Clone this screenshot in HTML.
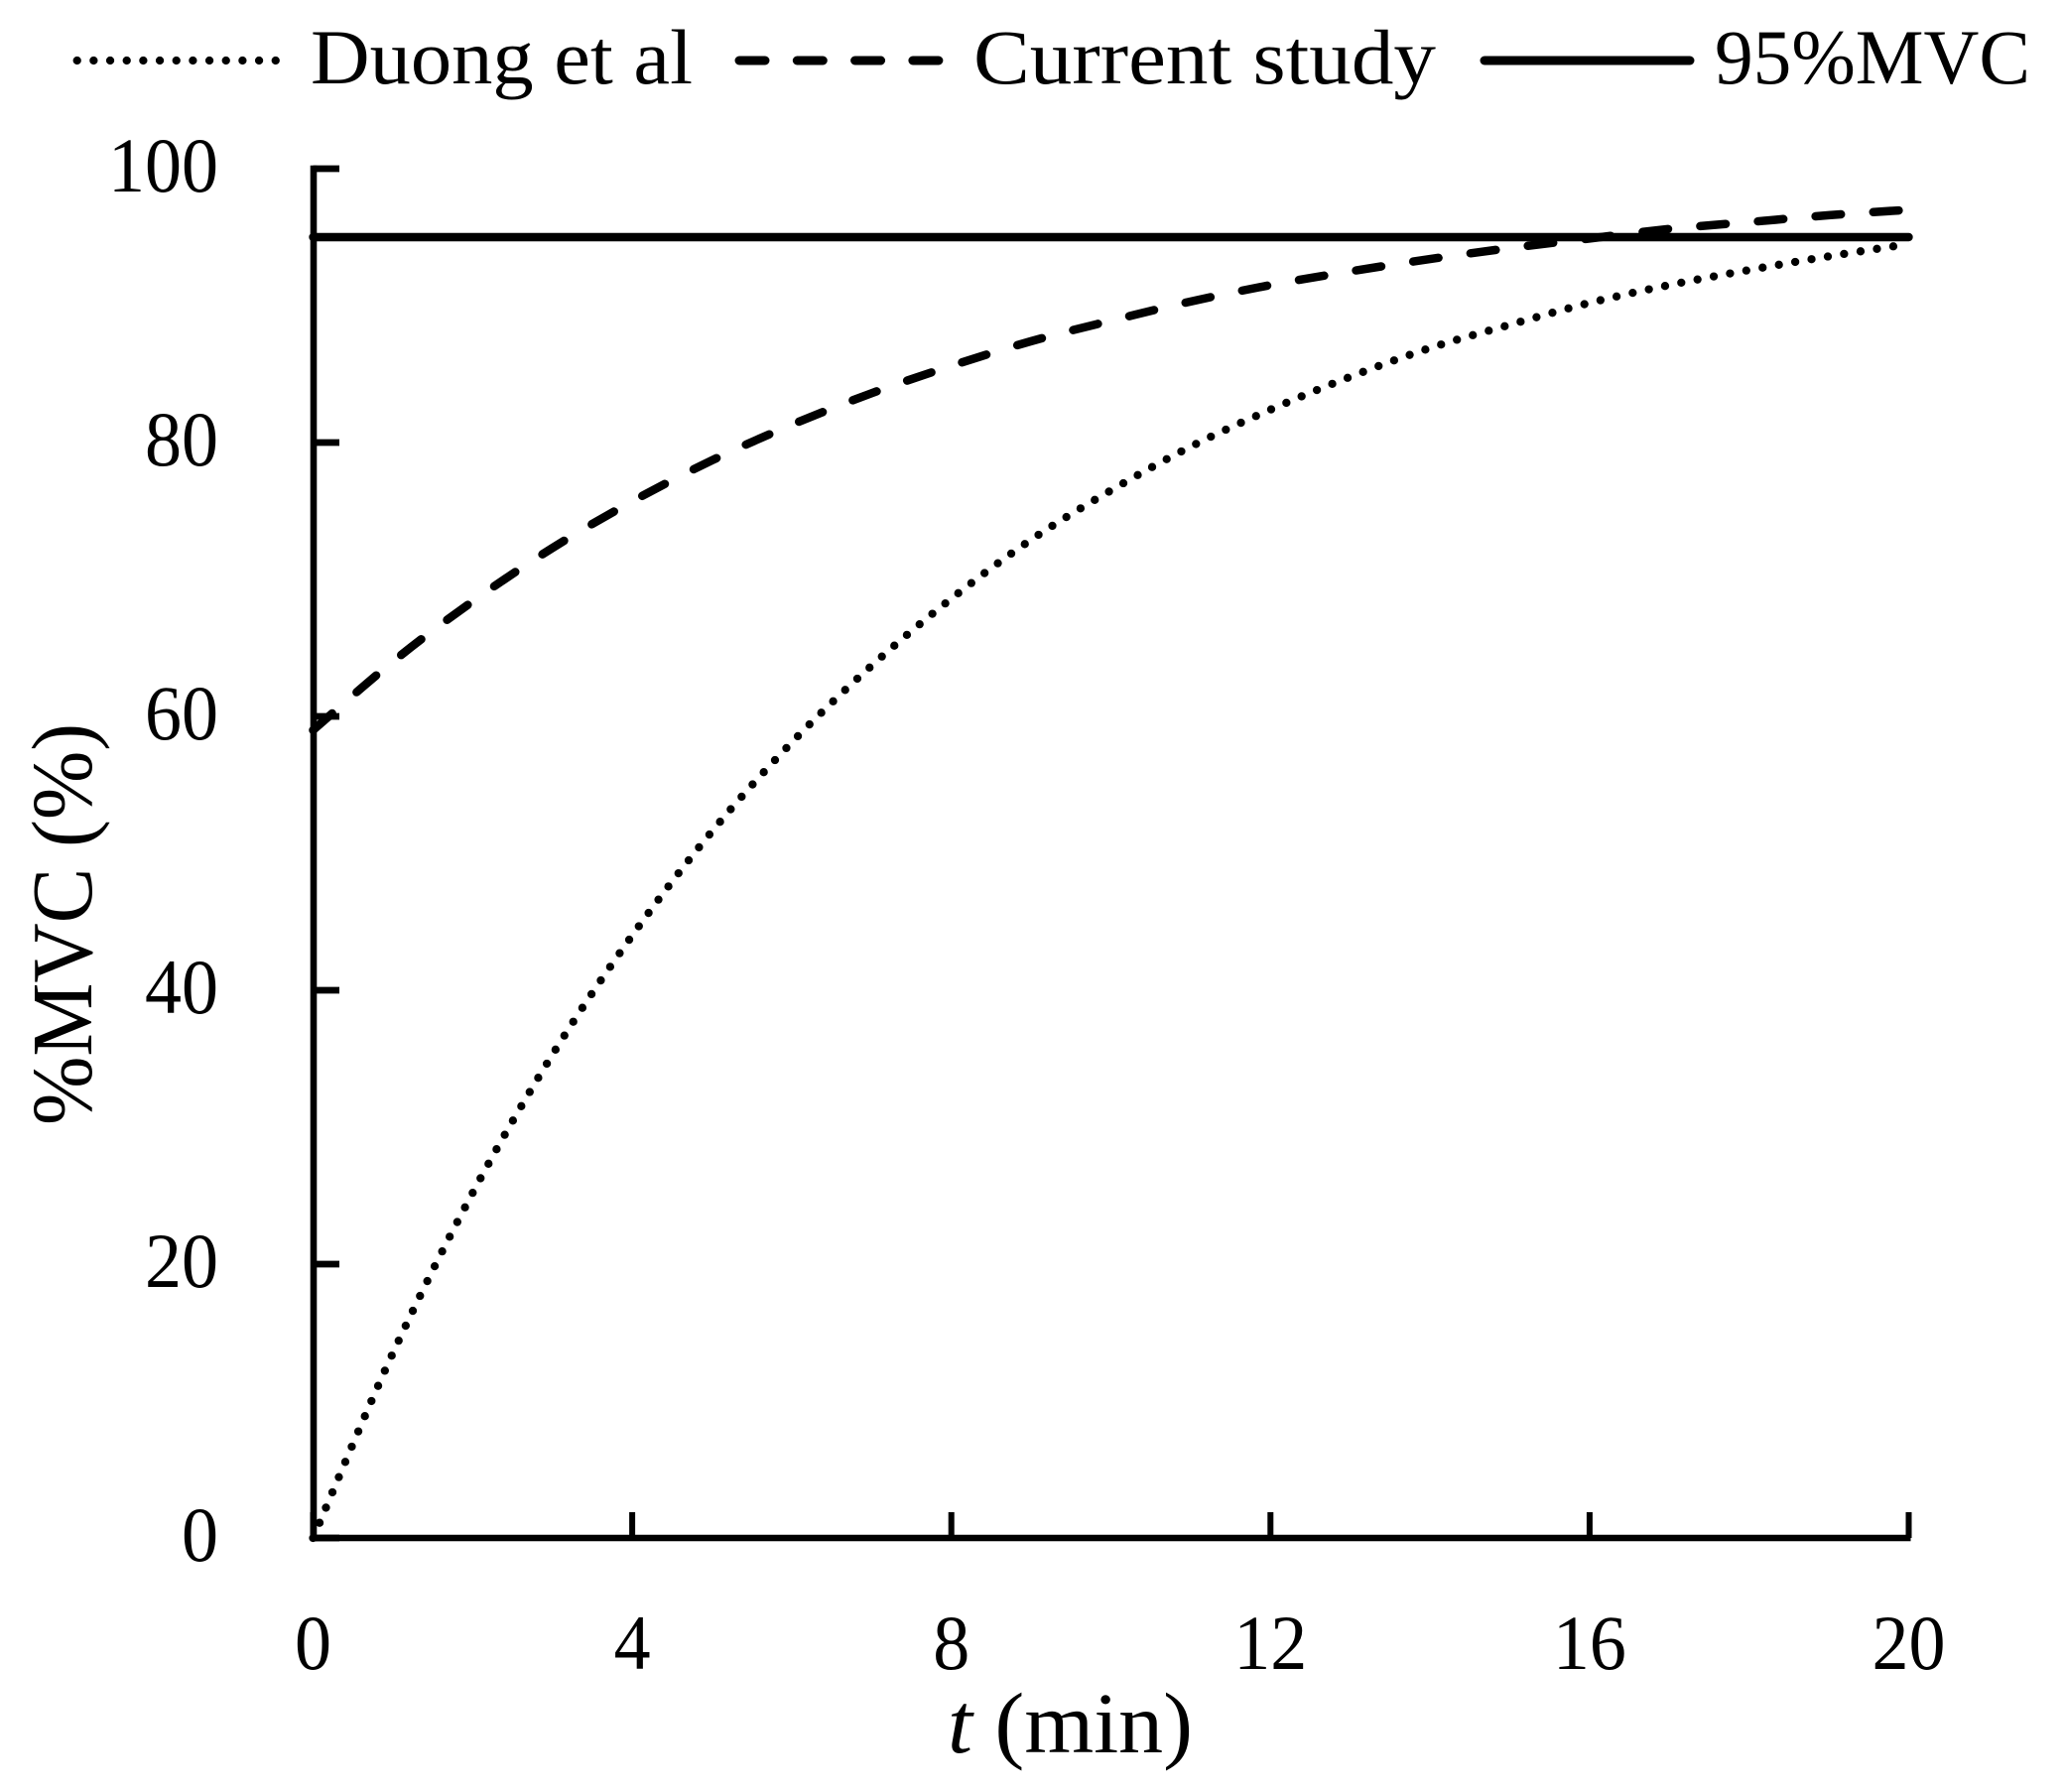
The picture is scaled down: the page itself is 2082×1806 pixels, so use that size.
<!DOCTYPE html>
<html lang="en">
<head>
<meta charset="utf-8">
<title>%MVC over time</title>
<style>
html,body{margin:0;padding:0;background:#fff;}
svg{display:block;}
text{font-family:"Liberation Serif",serif;fill:#000;}
</style>
</head>
<body>
<svg id="chart" xmlns="http://www.w3.org/2000/svg" width="2082" height="1806" viewBox="0 0 2082 1806">
  <rect x="0" y="0" width="2082" height="1806" fill="#fff"/>
  <g id="plot"></g>
  <g>
    <g>
      <line x1="77.7" y1="61" x2="278.5" y2="61" stroke="#000" stroke-width="8.3" stroke-linecap="round" stroke-dasharray="0 16.67"/>
      <text x="313" y="84" font-size="78" textLength="385" lengthAdjust="spacingAndGlyphs">Duong et al</text>
    </g>
    <g>
      <line x1="745" y1="61" x2="946" y2="61" stroke="#000" stroke-width="9" stroke-linecap="round" stroke-dasharray="26 32.3"/>
      <text x="981" y="84" font-size="78" textLength="466" lengthAdjust="spacingAndGlyphs">Current study</text>
    </g>
    <g>
      <line x1="1496" y1="61" x2="1703" y2="61" stroke="#000" stroke-width="9" stroke-linecap="round"/>
      <text x="1728" y="84" font-size="78" textLength="318" lengthAdjust="spacingAndGlyphs">95%MVC</text>
    </g>
  </g>
  <text x="955" y="1766" font-size="87" textLength="247" lengthAdjust="spacingAndGlyphs"><tspan font-style="italic">t</tspan> (min)</text>
  <text transform="translate(92 1134) rotate(-90)" x="0" y="0" font-size="87" textLength="405" lengthAdjust="spacingAndGlyphs">%MVC (%)</text>
</svg>
<script>
const times = [0,1,2,3,4,5,6,7,8,9,10,11,12,13,14,15,16,17,18,19,20];
const duongValues = [0,13.5,25.2,35.3,44.0,51.6,58.1,63.7,68.6,72.9,76.5,79.7,82.4,84.8,86.9,88.6,90.2,91.5,92.6,93.6,94.5];
const currentValues = [59.0,64.0,68.4,72.3,75.7,78.7,81.3,83.6,85.6,87.4,88.9,90.3,91.5,92.5,93.4,94.2,94.9,95.6,96.1,96.6,97.0];
const thresholdValues = [95,95];
const thresholdTimes = [0,20];
const xTicks = [0,4,8,12,16,20];
const yTicks = [0,20,40,60,80,100];

const NS = 'http://www.w3.org/2000/svg';
const plot = document.getElementById('plot');
const xScale = function (t) { return 315.5 + (t / 20) * (1923.5 - 315.5); };
const yScale = function (v) { return 1550 - (v / 100) * (1550 - 170); };

function mk(tag, attrs, parent) {
  const el = document.createElementNS(NS, tag);
  for (const k in attrs) el.setAttribute(k, attrs[k]);
  parent.appendChild(el);
  return el;
}

function smoothPath(xs, ys) {
  const p = xs.map(function (t, i) { return [xScale(t), yScale(ys[i])]; });
  let d = 'M' + p[0][0].toFixed(2) + ' ' + p[0][1].toFixed(2);
  for (let i = 0; i < p.length - 1; i++) {
    const a = p[Math.max(i - 1, 0)], b = p[i], c = p[i + 1], e = p[Math.min(i + 2, p.length - 1)];
    const c1x = b[0] + (c[0] - a[0]) / 6, c1y = b[1] + (c[1] - a[1]) / 6;
    const c2x = c[0] - (e[0] - b[0]) / 6, c2y = c[1] - (e[1] - b[1]) / 6;
    d += 'C' + c1x.toFixed(2) + ' ' + c1y.toFixed(2) + ' ' + c2x.toFixed(2) + ' ' + c2y.toFixed(2) + ' ' + c[0].toFixed(2) + ' ' + c[1].toFixed(2);
  }
  return d;
}

const yAxis = mk('line', {x1: xScale(0) + 0.5, y1: yScale(100) - 3.3, x2: xScale(0) + 0.5, y2: yScale(0) + 3.3, stroke: '#000', 'stroke-width': 6.6}, plot);



const xAxis = mk('line', {x1: xScale(0), y1: yScale(0), x2: xScale(20) + 2, y2: yScale(0), stroke: '#000', 'stroke-width': 6.6}, plot);



yTicks.forEach(function (v) {
  const tick = mk('line', {x1: xScale(0), y1: yScale(v), x2: xScale(0) + 26.5, y2: yScale(v), stroke: '#000', 'stroke-width': 6.7}, plot);
  
  
  const label = mk('text', {x: 220, y: yScale(v) + 23, 'font-size': 78, 'text-anchor': 'end', textLength: String(v).length * 37, lengthAdjust: 'spacingAndGlyphs'}, plot);
  label.textContent = v;
  
  
});

xTicks.forEach(function (t) {
  const tick = mk('line', {x1: xScale(t), y1: 1524, x2: xScale(t), y2: 1550, stroke: '#000', 'stroke-width': 6}, plot);
  
  
  const label = mk('text', {x: xScale(t), y: 1682, 'font-size': 78, 'text-anchor': 'middle', textLength: String(t).length * 37, lengthAdjust: 'spacingAndGlyphs'}, plot);
  label.textContent = t;
  
  
});

const duongLine = mk('path', {d: smoothPath(times, duongValues), fill: 'none', stroke: '#000', 'stroke-width': 8.3, 'stroke-linecap': 'round', 'stroke-dasharray': '0 16.67'}, plot);



const currentLine = mk('path', {d: smoothPath(times, currentValues), fill: 'none', stroke: '#000', 'stroke-width': 8.5, 'stroke-linecap': 'round', 'stroke-dasharray': '25.7 32.6'}, plot);



const thresholdLine = mk('path', {d: smoothPath(thresholdTimes, thresholdValues), fill: 'none', stroke: '#000', 'stroke-width': 8.4, 'stroke-linecap': 'round'}, plot);


</script>
</body>
</html>
